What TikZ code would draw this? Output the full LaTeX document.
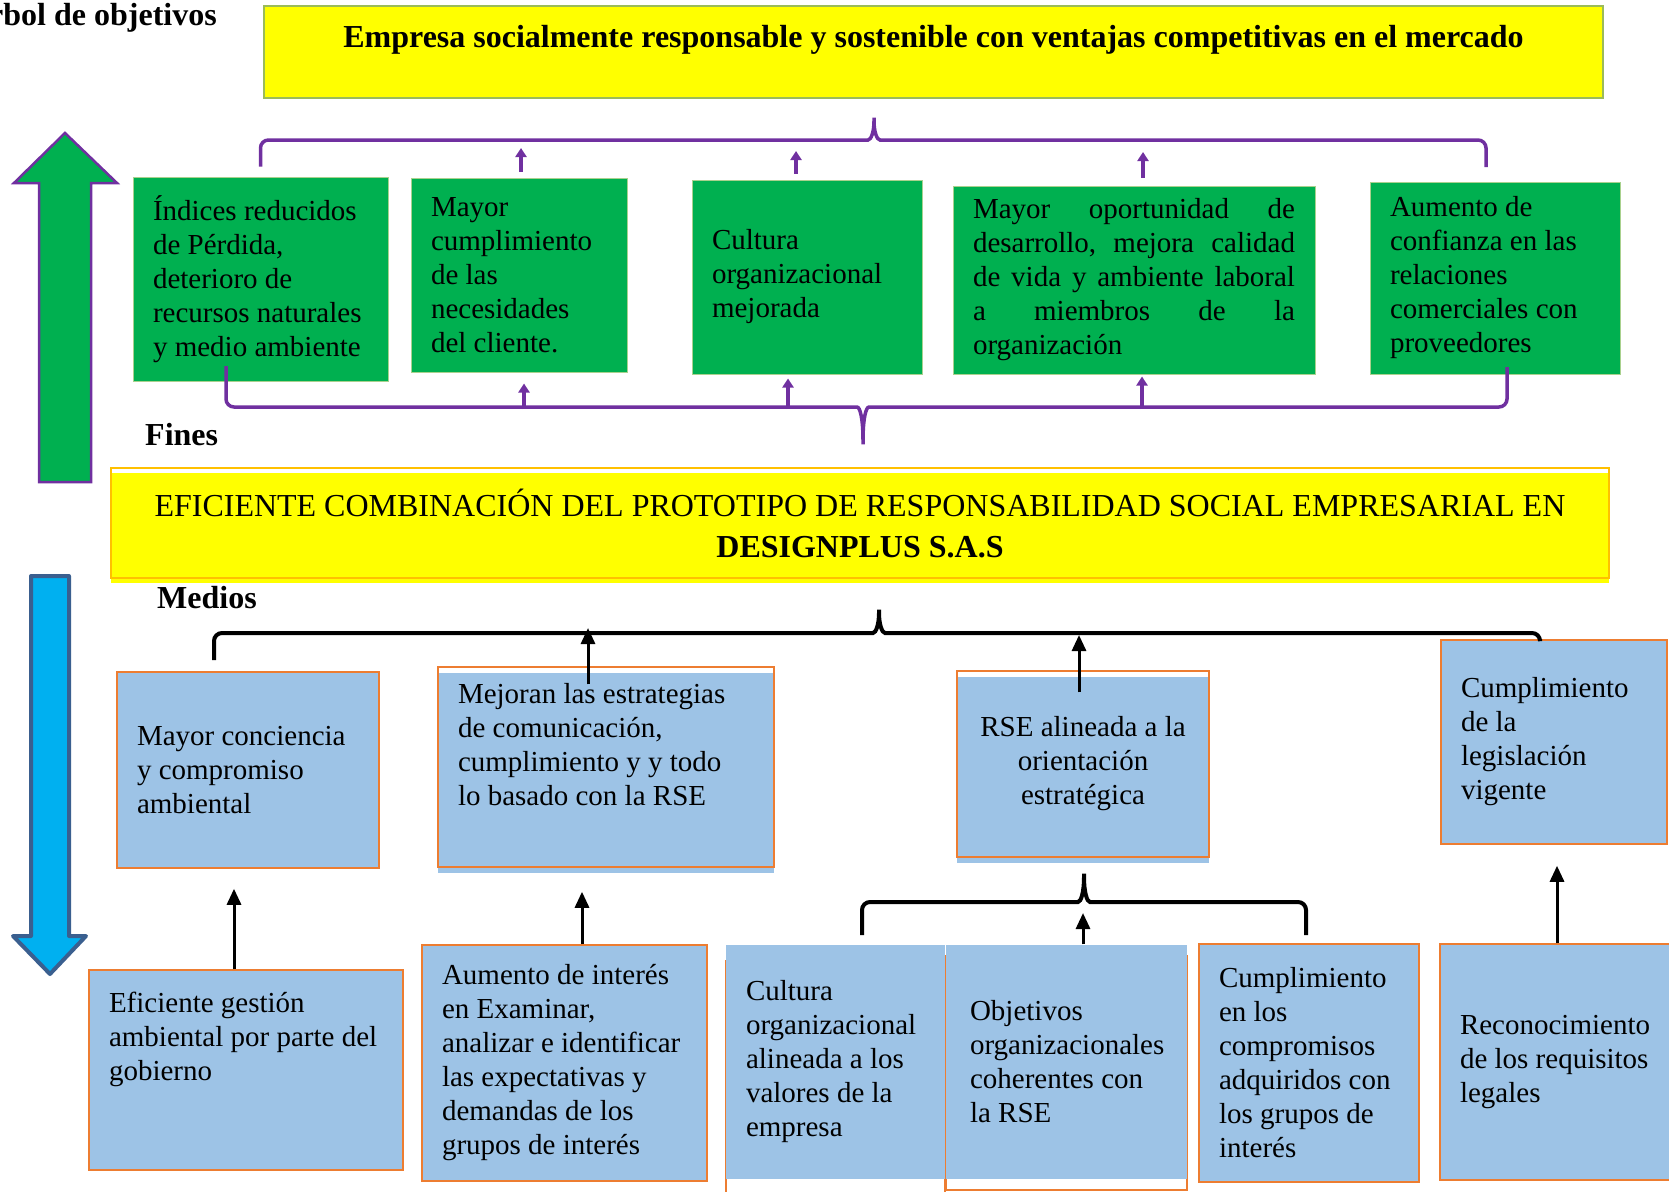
\documentclass[tikz,border=0pt]{standalone}
\usepackage{fontspec}
\setmainfont{Liberation Serif}
\usetikzlibrary{arrows.meta}

\definecolor{fingreen}{HTML}{00B050}
\definecolor{finedge}{HTML}{A9D18E}
\definecolor{purpleline}{HTML}{7030A0}
\definecolor{medblue}{HTML}{9DC3E6}
\definecolor{medorange}{HTML}{ED7D31}
\definecolor{objyellow}{HTML}{FFFF00}
\definecolor{topedge}{HTML}{9BBB59}
\definecolor{midedge}{HTML}{FFC000}
\definecolor{downblue}{HTML}{00B0F0}
\definecolor{downedge}{HTML}{3A5F8F}

\begin{document}
\begin{tikzpicture}[x=1pt,y=-1pt,
    boxfont/.style={font=\fontsize{29}{34}\selectfont},
    finbox/.style={boxfont, fill=fingreen, draw=finedge, line width=1pt, align=flush left, inner xsep=20pt, inner ysep=0pt},
    medbox/.style={boxfont, fill=medblue, draw=medorange, line width=1.5pt, align=flush left, inner xsep=20pt, inner ysep=0pt},
    lowfill/.style 2 args={fill=none, preaction={fill=#1, transform canvas={yshift=-#2}}},
    lowedge/.style={draw=none, preaction={draw=medorange, line width=1.5pt, transform canvas={yshift=-#1}}},
    finarrow/.style={purpleline, line width=3.5pt, -{Triangle[length=9pt,width=11pt]}},
    finbrace/.style={purpleline, line width=3.5pt, rounded corners=8pt},
    medarrow/.style={black, line width=3pt, -{Triangle[length=16pt,width=14pt]}},
    medbrace/.style={black, line width=4pt, rounded corners=8pt},
    labeltext/.style={font=\fontsize{32}{38}\selectfont\bfseries, inner sep=0pt}]

    \useasboundingbox (0,0) rectangle (1669,1191);

    % big arrows on the left
    \draw[fill=fingreen, draw=purpleline, line width=2.5pt] (39,482) -- (39,183) -- (14,183) -- (65,133) -- (117,183) -- (91,183) -- (91,482) -- cycle;
    \draw[fill=downblue, draw=downedge, line width=4pt, line join=round] (31,576) -- (69,576) -- (69,936) -- (86,936) -- (50,974) -- (13,936) -- (31,936) -- cycle;

    \node[labeltext, anchor=base east] (titulo) at (217,25) {Árbol de objetivos};
    \node[labeltext, anchor=base west] (fines) at (145,445) {Fines};
    \node[labeltext, anchor=base west] (medios) at (157,608) {Medios};

    % objetivo superior
    \node[draw=topedge, fill=objyellow, line width=1.5pt, minimum width=1339pt, minimum height=92pt, text depth=32pt,
          font=\fontsize{32}{38}\selectfont\bfseries] (T) at (933.5,52)
          {Empresa socialmente responsable y sostenible con ventajas competitivas en el mercado};

    % fines
    \node[finbox, minimum width=255pt, minimum height=204pt, text width=215pt] (G1) at (260.5,279) {Índices reducidos\\de Pérdida,\\deterioro de\\recursos naturales\\y medio ambiente};
    \node[finbox, minimum width=216pt, minimum height=194pt, text width=176pt] (G2) at (519,275) {Mayor\\cumplimiento\\de las\\necesidades\\del cliente.};
    \node[finbox, minimum width=230pt, minimum height=194pt, text width=190pt] (G3) at (807,277) {Cultura\\organizacional\\mejorada};
    \node[finbox, minimum width=362pt, minimum height=188pt, text width=322pt] (G4) at (1134,280) {Mayor\hfill oportunidad\hfill de\\desarrollo,\hfill mejora\hfill calidad\\de\hfill vida\hfill y\hfill ambiente\hfill laboral\\a\hfill miembros\hfill de\hfill la\\organización};
    \node[finbox, minimum width=250pt, minimum height=192pt, text width=210pt] (G5) at (1495,278) {Aumento de\\confianza en las\\relaciones\\comerciales con\\proveedores};

    % objetivo central
    \node[draw=midedge, line width=1.5pt, lowfill={objyellow}{5pt}, minimum width=1498pt, minimum height=110pt, text width=1440pt, align=flush center,
          inner ysep=0pt, font=\fontsize{32}{41}\selectfont] (Y) at (860,523)
          {EFICIENTE COMBINACIÓN DEL PROTOTIPO DE RESPONSABILIDAD SOCIAL EMPRESARIAL EN\\\textbf{DESIGNPLUS S.A.S}};

    % medios
    \node[medbox, minimum width=262pt, minimum height=196pt, text width=222pt] (M1) at (248,770) {Mayor conciencia\\y compromiso\\ambiental};
    \node[medbox, lowfill={medblue}{6pt}, minimum width=336pt, minimum height=200pt, text width=296pt, text depth=148pt] (M2) at (606,767) {Mejoran las estrategias\\de comunicación,\\cumplimiento y y todo\\lo basado con la RSE};
    \node[medbox, lowfill={medblue}{6pt}, minimum width=252pt, minimum height=186pt, text width=212pt, align=flush center] (M3) at (1083,764) {RSE alineada a la\\orientación\\estratégica};
    \node[medbox, minimum width=226pt, minimum height=204pt, text width=186pt] (M4) at (1554,742) {Cumplimiento\\de la\\legislación\\vigente};

    \node[medbox, minimum width=314pt, minimum height=200pt, text width=274pt, text depth=136pt] (E1) at (246,1070) {Eficiente gestión\\ambiental por parte del\\gobierno};
    \node[medbox, minimum width=285pt, minimum height=236pt, text width=245pt] (E2) at (564.5,1063) {Aumento de interés\\en Examinar,\\analizar e identificar\\las expectativas y\\demandas de los\\grupos de interés};
    \node[medbox, lowedge=16pt, minimum width=219pt, minimum height=234pt, text width=179pt] (E3) at (835.5,1062) {Cultura\\organizacional\\alineada a los\\valores de la\\empresa};
    \node[medbox, lowedge=11pt, minimum width=241pt, minimum height=234pt, inner xsep=24pt, text width=193pt] (E4) at (1066.5,1062) {Objetivos\\organizacionales\\coherentes con\\la RSE};
    \node[medbox, minimum width=220pt, minimum height=238pt, text width=180pt] (E5) at (1309,1063) {Cumplimiento\\en los\\compromisos\\adquiridos con\\los grupos de\\interés};
    \node[medbox, minimum width=240pt, minimum height=236pt, text width=200pt] (E6) at (1560,1062) {Reconocimiento\\de los requisitos\\legales};

    % llaves
    \coordinate (fintip) at (874,113);
    \coordinate (finbase) at (863,449);
    \coordinate (medtip) at (879,605);
    \coordinate (lowtip) at (1084,869);

    \draw[finbrace] ([yshift=10pt]G1.north) |- (860,140) .. controls (871,140) and (874,132) .. (fintip) .. controls (874,132) and (877,140) .. (888,140) -| (1486,167);
    \draw[finbrace] (226,366) |- (849,407) .. controls (860,407) and (863,418) .. (finbase) .. controls (863,418) and (866,407) .. (877,407) -| (1507,367);
    \draw[medbrace] (214,660) |- (865,633) .. controls (876,633) and (879,624) .. (medtip) .. controls (879,624) and (882,633) .. (893,633) -| (1540,639);
    \draw[medbrace] (862,935) |- (1070,902) .. controls (1081,902) and (1084,892) .. (lowtip) .. controls (1084,892) and (1087,902) .. (1098,902) -| (1306,935);

    % flechas de fines
    \coordinate (u1) at (521,148);
    \coordinate (u2) at (796,151);
    \coordinate (u3) at (1143,152);
    \coordinate (d1) at (524,409);
    \coordinate (d2) at (788,409);
    \coordinate (d3) at (1142,409);
    \draw[finarrow, shorten <=6pt] ([xshift=2pt]G2.north) -- (u1);
    \draw[finarrow, shorten <=6pt] ([xshift=-11pt]G3.north) -- (u2);
    \draw[finarrow, shorten <=8pt] ([xshift=9pt]G4.north) -- (u3);
    \draw[finarrow, shorten >=11pt] (d1) -- ([xshift=5pt]G2.south);
    \draw[finarrow, shorten >=4pt] (d2) -- ([xshift=-19pt]G3.south);
    \draw[finarrow, shorten >=2pt] (d3) -- ([xshift=8pt]G4.south);

    % flechas de medios
    \coordinate (m1) at (588,628);
    \coordinate (m2) at (1079,635);
    \coordinate (m3) at (1083,913);
    \draw[medarrow] ([xshift=-18pt,yshift=-18pt]M2.north) -- (m1);
    \draw[medarrow] ([xshift=-4pt,yshift=-22pt]M3.north) -- (m2);
    \draw[medarrow] ([xshift=16.5pt]E4.north) -- (m3);
    \draw[medarrow, shorten >=20pt] ([xshift=-12pt]E1.north) -- ([xshift=-14pt]M1.south);
    \draw[medarrow, shorten >=24pt] ([xshift=17.5pt]E2.north) -- ([xshift=-24pt]M2.south);
    \draw[medarrow, shorten >=21pt] ([xshift=-3pt]E6.north) -- ([xshift=3pt]M4.south);

\end{tikzpicture}
\end{document}
